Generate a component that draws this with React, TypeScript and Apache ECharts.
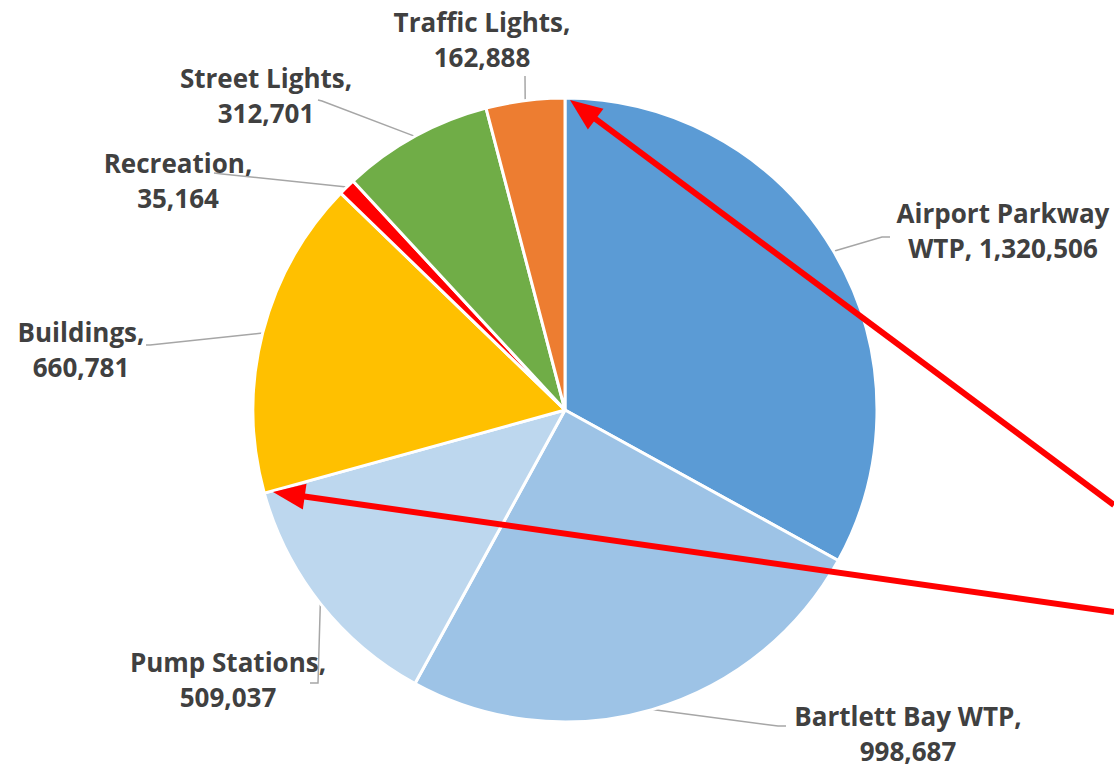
import React, { useEffect, useRef } from "react";
import * as echarts from "echarts";

const categories = [
  "Airport Parkway WTP",
  "Bartlett Bay WTP",
  "Pump Stations",
  "Buildings",
  "Recreation",
  "Street Lights",
  "Traffic Lights",
];
const values = [1320506, 998687, 509037, 660781, 35164, 312701, 162888];
const colors = ["#5B9BD5", "#9DC3E6", "#BDD7EE", "#FFC000", "#FF0000", "#70AD47", "#ED7D31"];

// label layout (center of label text, leader line bend/end)
const labelPos: [number, number][] = [
  [1003, 230],
  [908, 733],
  [228, 679],
  [81, 349],
  [178, 180],
  [266, 95],
  [482, 39],
];
const leaderEnds: [number, number][][] = [
  [[882, 237], [890, 237]],
  [[778, 726], [786, 726]],
  [[318, 683], [310, 683]],
  [[150, 345], [146, 345]],
  [[222, 174], [214, 173]],
  [[322, 101], [318, 100]],
  [[525, 77], [525, 76]],
];

function fmt(v: number) {
  return v.toLocaleString("en-US");
}

function arrow(tip: [number, number], tail: [number, number]) {
  const dx = tail[0] - tip[0];
  const dy = tail[1] - tip[1];
  const len = Math.sqrt(dx * dx + dy * dy);
  const ux = dx / len, uy = dy / len;
  const nx = -uy, ny = ux;
  const hl = 32, hw = 13;
  const bx = tip[0] + ux * hl, by = tip[1] + uy * hl;
  return [
    {
      type: "line",
      shape: { x1: bx - ux * 2, y1: by - uy * 2, x2: tail[0], y2: tail[1] },
      style: { stroke: "#FF0000", lineWidth: 6 },
      z: 100,
    },
    {
      type: "polygon",
      shape: {
        points: [
          [tip[0], tip[1]],
          [bx + nx * hw, by + ny * hw],
          [bx - nx * hw, by - ny * hw],
        ],
      },
      style: { fill: "#FF0000" },
      z: 100,
    },
  ];
}

export default function App() {
  const ref = useRef<HTMLDivElement>(null);
  useEffect(() => {
    if (!ref.current) return;
    const chart = echarts.init(ref.current, null, { renderer: "svg" });
    chart.setOption({
      animation: false,
      backgroundColor: "#FFFFFF",
      series: [
        {
          type: "pie",
          center: [565, 410],
          radius: [0, 312],
          startAngle: 90,
          clockwise: true,
          avoidLabelOverlap: false,
          itemStyle: { borderColor: "#FFFFFF", borderWidth: 3 },
          label: {
            show: true,
            position: "outside",
            fontFamily: "Open Sans",
            fontWeight: "bold",
            fontSize: 26,
            lineHeight: 35,
            color: "#404040",
            align: "center",
            formatter: (p: any) => {
              const name: string = p.name;
              if (p.dataIndex === 0) return `Airport Parkway\nWTP, ${fmt(p.value)}`;
              return `${name},\n${fmt(p.value)}`;
            },
          },
          labelLine: {
            show: true,
            lineStyle: { color: "#A6A6A6", width: 1.5 },
          },
          labelLayout: (params: any) => {
            const i = params.dataIndex;
            const start = params.labelLinePoints ? params.labelLinePoints[0] : [0, 0];
            return {
              x: labelPos[i][0],
              y: labelPos[i][1],
              align: "center",
              verticalAlign: "middle",
              labelLinePoints: [start, leaderEnds[i][0], leaderEnds[i][1]],
            };
          },
          data: categories.map((c, i) => ({
            name: c,
            value: values[i],
            itemStyle: { color: colors[i] },
          })),
        },
      ],
      graphic: [
        ...arrow([570, 100], [1114, 505]),
        ...arrow([273, 492], [1114, 612]),
      ],
    });
    return () => chart.dispose();
  }, []);
  return (
    <div
      ref={ref}
      style={{ position: "absolute", left: 0, top: 0, width: 1114, height: 768 }}
    />
  );
}
